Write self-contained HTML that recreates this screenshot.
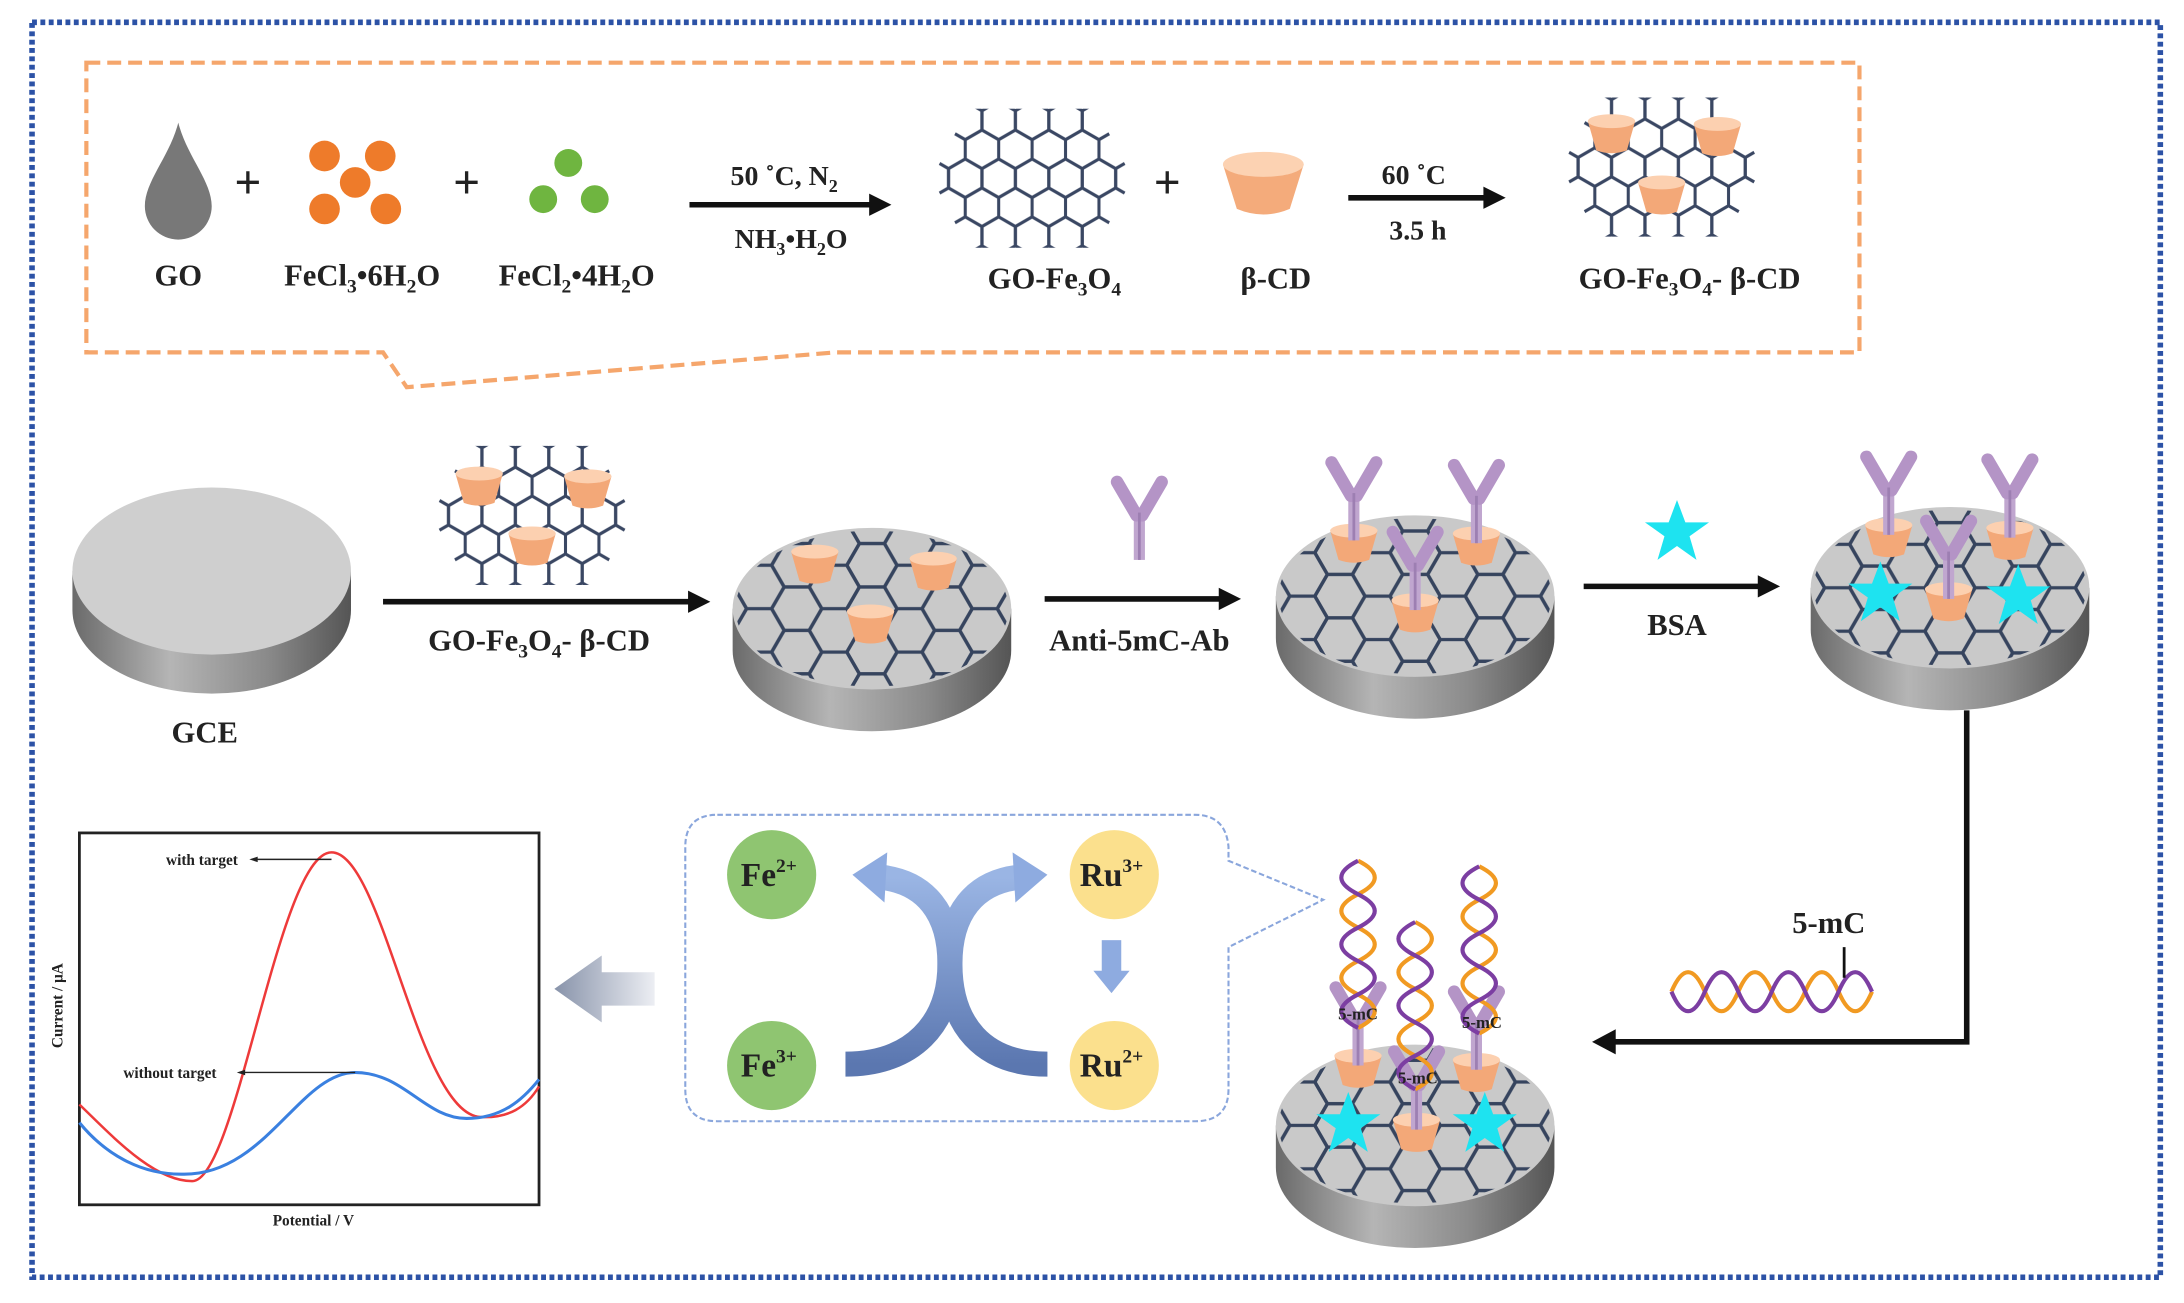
<!DOCTYPE html>
<html><head><meta charset="utf-8"><style>
html,body{margin:0;padding:0;background:#fff;}
svg{display:block;}
text{font-family:"Liberation Serif",serif;font-weight:bold;fill:#222;}
</style></head><body>
<svg width="2184" height="1303" viewBox="0 0 1568 935.5" preserveAspectRatio="none" xmlns="http://www.w3.org/2000/svg">
<defs>
 <pattern id="hexs" width="24" height="41.57" patternUnits="userSpaceOnUse">
  <g fill="none" stroke="#3a4763" stroke-width="2.2">
   <path id="hx" d="M0,-13.86 L12,-6.93 L12,6.93 L0,13.86 L-12,6.93 L-12,-6.93 Z"/>
   <use href="#hx" x="24"/><use href="#hx" x="12" y="20.78"/><use href="#hx" y="41.57"/><use href="#hx" x="24" y="41.57"/>
  </g>
 </pattern>
 <pattern id="hexd" width="54" height="31.18" patternUnits="userSpaceOnUse">
  <g fill="none" stroke="#36445e" stroke-width="2.4">
   <path id="hf" d="M-18,0 L-9,-15.59 L9,-15.59 L18,0 L9,15.59 L-9,15.59 Z"/>
   <use href="#hf" x="54"/><use href="#hf" x="27" y="15.59"/><use href="#hf" y="31.18"/><use href="#hf" x="54" y="31.18"/>
  </g>
 </pattern>
 <linearGradient id="side" x1="0" x2="1" y1="0" y2="0">
  <stop offset="0" stop-color="#6a6a6a"/><stop offset="0.35" stop-color="#b5b5b5"/><stop offset="0.7" stop-color="#8a8a8a"/><stop offset="1" stop-color="#555"/>
 </linearGradient>
 <linearGradient id="garr" x1="0" x2="1"><stop offset="0" stop-color="#8893aa"/><stop offset="1" stop-color="#eceef3"/></linearGradient>
 <linearGradient id="bandg" x1="0" y1="1" x2="0" y2="0"><stop offset="0" stop-color="#5b77b0"/><stop offset="1" stop-color="#9ab5e4"/></linearGradient>
 <g id="cup"><path d="M-17,-9 L17,-9 L11,12 Q0,16 -11,12 Z" fill="#f3a878"/><ellipse cx="0" cy="-9" rx="17" ry="5" fill="#fcd0b0"/></g>
 <g id="ab"><rect x="-4" y="-4" width="8" height="34" fill="#c0a6cf"/><path d="M-2,-2 L-16,-26 M2,-2 L16,-26" stroke="#b494c6" stroke-width="9" stroke-linecap="round"/><rect x="-1" y="-4" width="2" height="34" fill="#9d7fb2"/></g>
 <polygon id="star" points="0,-24 6,-8 23,-8 9,2 14,19 0,9 -14,19 -9,2 -23,-8 -6,-8" fill="#1ee3f0"/>
 <clipPath id="flake"><path d="M-46,-50 L46,-50 L72,0 L46,50 L-46,50 L-72,0 Z"/></clipPath>
 <clipPath id="dtop"><ellipse cx="0" cy="0" rx="98" ry="56"/></clipPath>
 <g id="disc">
  <path d="M-100,0 L-100,30 A100,58 0 0 0 100,30 L100,0 Z" fill="url(#side)"/>
  <ellipse cx="0" cy="0" rx="100" ry="58" fill="#c9c9c9"/>
  <g clip-path="url(#dtop)"><rect x="-110" y="-70" width="220" height="140" fill="url(#hexd)"/></g>
 </g>
 <g id="flk"><g clip-path="url(#flake)"><rect x="-80" y="-60" width="160" height="120" fill="url(#hexs)"/></g></g>
</defs>

<rect x="23" y="16" width="1528" height="901" fill="none" stroke="#2c52a6" stroke-width="4" stroke-dasharray="3.5 2.5"/>
<path d="M62,45 H1335 V253 H600 L292,278 L275,253 H62 Z" fill="none" stroke="#f5a66c" stroke-width="3" stroke-dasharray="10 5"/>

<path d="M128,88 C122,112 104,130 104,148 A24,24 0 0 0 152,148 C152,130 134,112 128,88 Z" fill="#787878"/>
<text x="178" y="142" font-size="34" text-anchor="middle" font-weight="normal">+</text>
<g fill="#ee7b2a"><circle cx="233" cy="112" r="11"/><circle cx="273" cy="112" r="11"/><circle cx="255" cy="131" r="11"/><circle cx="233" cy="150" r="11"/><circle cx="277" cy="150" r="11"/></g>
<text x="335" y="142" font-size="34" text-anchor="middle" font-weight="normal">+</text>
<g fill="#6fb540"><circle cx="408" cy="117" r="10"/><circle cx="390" cy="143" r="10"/><circle cx="427" cy="143" r="10"/></g>
<text x="128" y="205" font-size="22" text-anchor="middle">GO</text>
<text x="260" y="205" font-size="22" text-anchor="middle">FeCl<tspan font-size="14" dy="5">3</tspan><tspan dy="-5">•6H</tspan><tspan font-size="14" dy="5">2</tspan><tspan dy="-5">O</tspan></text>
<text x="414" y="205" font-size="22" text-anchor="middle">FeCl<tspan font-size="14" dy="5">2</tspan><tspan dy="-5">•4H</tspan><tspan font-size="14" dy="5">2</tspan><tspan dy="-5">O</tspan></text>
<line x1="495" y1="147" x2="628" y2="147" stroke="#111" stroke-width="4"/><polygon points="640,147 624,139 624,155" fill="#111"/>
<text x="563" y="133" font-size="20" text-anchor="middle">50 ˚C, N<tspan font-size="13" dy="5">2</tspan></text>
<text x="568" y="178" font-size="20" text-anchor="middle">NH<tspan font-size="13" dy="5">3</tspan><tspan dy="-5">•H</tspan><tspan font-size="13" dy="5">2</tspan><tspan dy="-5">O</tspan></text>
<use href="#flk" x="741" y="128"/>
<text x="757" y="207" font-size="22" text-anchor="middle">GO-Fe<tspan font-size="14" dy="5">3</tspan><tspan dy="-5">O</tspan><tspan font-size="14" dy="5">4</tspan></text>
<text x="838" y="142" font-size="34" text-anchor="middle" font-weight="normal">+</text>
<path d="M878,118 L936,118 L926,150 Q907,158 888,150 Z" fill="#f4ab7b"/><ellipse cx="907" cy="118" rx="29" ry="9" fill="#fcd2b2"/>
<text x="916" y="207" font-size="22" text-anchor="middle">β-CD</text>
<line x1="968" y1="142" x2="1068" y2="142" stroke="#111" stroke-width="4"/><polygon points="1081,142 1065,134 1065,150" fill="#111"/>
<text x="1015" y="132" font-size="20" text-anchor="middle">60 ˚C</text>
<text x="1018" y="172" font-size="20" text-anchor="middle">3.5 h</text>
<use href="#flk" x="1193" y="120"/>
<use href="#cup" x="1157" y="96"/><use href="#cup" x="1233" y="98"/><use href="#cup" x="1193" y="140"/>
<text x="1213" y="207" font-size="22" text-anchor="middle">GO-Fe<tspan font-size="14" dy="5">3</tspan><tspan dy="-5">O</tspan><tspan font-size="14" dy="5">4</tspan><tspan dy="-5">- β-CD</tspan></text>

<path d="M-100,0 L-100,28 A100,60 0 0 0 100,28 L100,0 Z" transform="translate(152,410)" fill="url(#side)"/>
<ellipse cx="152" cy="410" rx="100" ry="60" fill="#cfcfcf"/>
<text x="147" y="533" font-size="22" text-anchor="middle">GCE</text>
<use href="#flk" x="382" y="370"/>
<use href="#cup" x="344" y="349"/><use href="#cup" x="422" y="351"/><use href="#cup" x="382" y="392"/>
<line x1="275" y1="432" x2="497" y2="432" stroke="#111" stroke-width="4"/><polygon points="510,432 494,424 494,440" fill="#111"/>
<text x="387" y="467" font-size="22" text-anchor="middle">GO-Fe<tspan font-size="14" dy="5">3</tspan><tspan dy="-5">O</tspan><tspan font-size="14" dy="5">4</tspan><tspan dy="-5">- β-CD</tspan></text>

<use href="#disc" x="626" y="437"/>
<use href="#cup" x="585" y="405"/><use href="#cup" x="670" y="410"/><use href="#cup" x="625" y="448"/>
<use href="#ab" x="818" y="372"/>
<line x1="750" y1="430" x2="878" y2="430" stroke="#111" stroke-width="4"/><polygon points="891,430 875,422 875,438" fill="#111"/>
<text x="818" y="467" font-size="22" text-anchor="middle">Anti-5mC-Ab</text>

<use href="#disc" x="1016" y="428"/>
<use href="#cup" x="972" y="390"/><use href="#cup" x="1060" y="392"/><use href="#cup" x="1016" y="440"/>
<use href="#ab" x="972" y="358"/><use href="#ab" x="1060" y="360"/><use href="#ab" x="1016" y="408"/>
<use href="#star" x="1204" y="383"/>
<line x1="1137" y1="421" x2="1265" y2="421" stroke="#111" stroke-width="4"/><polygon points="1278,421 1262,413 1262,429" fill="#111"/>
<text x="1204" y="456" font-size="22" text-anchor="middle">BSA</text>

<use href="#disc" x="1400" y="422"/>
<use href="#cup" x="1356" y="386"/><use href="#cup" x="1443" y="388"/><use href="#cup" x="1399" y="432"/>
<use href="#ab" x="1356" y="354"/><use href="#ab" x="1443" y="356"/><use href="#ab" x="1399" y="400"/>
<use href="#star" x="1350" y="427"/><use href="#star" x="1449" y="429"/>

<path d="M1412,510 V748 H1158" fill="none" stroke="#111" stroke-width="4"/><polygon points="1143,748 1160,739 1160,757" fill="#111"/>
<g fill="none" stroke-width="3">
 <path d="M1200,712 Q1212,684 1224,712 T1248,712 T1272,712 T1296,712 T1320,712 T1344,712" stroke="#f19a22"/>
 <path d="M1200,712 Q1212,740 1224,712 T1248,712 T1272,712 T1296,712 T1320,712 T1344,712" stroke="#7c3ea2"/>
</g>
<line x1="1324" y1="680" x2="1324" y2="702" stroke="#111" stroke-width="2"/>
<text x="1313" y="670" font-size="22" text-anchor="middle">5-mC</text>

<use href="#disc" x="1016" y="808"/>
<use href="#star" x="968" y="808"/><use href="#star" x="1066" y="808"/>
<use href="#cup" x="975" y="767"/><use href="#cup" x="1060" y="770"/><use href="#cup" x="1017" y="813"/>
<use href="#ab" x="975" y="735"/><use href="#ab" x="1060" y="738"/><use href="#ab" x="1017" y="781"/>
<g fill="none" stroke-width="3">
 <path d="M975,618 Q999,630 975,642 T975,666 T975,690 T975,714 T975,738" stroke="#f19a22"/>
 <path d="M975,618 Q951,630 975,642 T975,666 T975,690 T975,714 T975,738" stroke="#7c3ea2"/>
 <path d="M1062,622 Q1086,634 1062,646 T1062,670 T1062,694 T1062,718 T1062,742" stroke="#f19a22"/>
 <path d="M1062,622 Q1038,634 1062,646 T1062,670 T1062,694 T1062,718 T1062,742" stroke="#7c3ea2"/>
 <path d="M1016,662 Q1040,674 1016,686 T1016,710 T1016,734 T1016,758 T1016,782" stroke="#f19a22"/>
 <path d="M1016,662 Q992,674 1016,686 T1016,710 T1016,734 T1016,758 T1016,782" stroke="#7c3ea2"/>
</g>
<text x="975" y="732" font-size="12" text-anchor="middle">5-mC</text>
<text x="1064" y="738" font-size="12" text-anchor="middle">5-mC</text>
<text x="1018" y="778" font-size="12" text-anchor="middle">5-mC</text>

<path d="M515,585 H858 Q880,585 882,608 V618 L950,646 L882,680 V782 Q882,805 858,805 H515 Q492,805 492,782 V608 Q492,585 515,585 Z" fill="none" stroke="#8aa6dc" stroke-width="1.5" stroke-dasharray="4 2"/>
<g font-size="24">
<circle cx="554" cy="628" r="32" fill="#8fc571"/><text x="552" y="636" text-anchor="middle">Fe<tspan font-size="14" dy="-10">2+</tspan></text>
<circle cx="800" cy="628" r="32" fill="#fbe08d"/><text x="798" y="636" text-anchor="middle">Ru<tspan font-size="14" dy="-10">3+</tspan></text>
<circle cx="554" cy="765" r="32" fill="#8fc571"/><text x="552" y="773" text-anchor="middle">Fe<tspan font-size="14" dy="-10">3+</tspan></text>
<circle cx="800" cy="765" r="32" fill="#fbe08d"/><text x="798" y="773" text-anchor="middle">Ru<tspan font-size="14" dy="-10">2+</tspan></text>
</g>
<path d="M607,764 C655,764 682,735 682,692 C682,655 700,634 730,630" fill="none" stroke="url(#bandg)" stroke-width="18"/>
<polygon points="752,628 727,612 729,648" fill="#8eabe0"/>
<path d="M752,764 C705,764 682,735 682,692 C682,655 664,634 634,630" fill="none" stroke="url(#bandg)" stroke-width="18"/>
<polygon points="612,628 637,612 635,648" fill="#8eabe0"/>
<rect x="791" y="675" width="14" height="24" fill="#8eabe0"/><polygon points="785,697 811,697 798,713" fill="#8eabe0"/>

<polygon points="398,710 432,686 432,698 470,698 470,722 432,722 432,734" fill="url(#garr)"/>

<rect x="57" y="598" width="330" height="267" fill="#fff" stroke="#222" stroke-width="2"/>
<path d="M57,793 C80,815 110,848 138,848 C170,848 200,612 238,612 C275,612 300,800 345,802 C365,803 378,795 387,780" fill="none" stroke="#ee3a3a" stroke-width="1.8"/>
<path d="M57,806 C75,828 100,843 130,843 C190,845 215,770 255,770 C290,770 305,803 335,803 C360,803 375,790 387,775" fill="none" stroke="#3a80e0" stroke-width="2.2"/>
<g font-size="11">
<text x="145" y="621" text-anchor="middle">with target</text>
<text x="122" y="774" text-anchor="middle">without target</text>
<text x="225" y="880" text-anchor="middle">Potential / V</text>
<text transform="translate(45,722) rotate(-90)" text-anchor="middle">Current / μA</text>
</g>
<line x1="182" y1="617" x2="238" y2="617" stroke="#222" stroke-width="1"/><polygon points="179,617 185,615 185,619" fill="#222"/>
<line x1="173" y1="770" x2="255" y2="770" stroke="#222" stroke-width="1"/><polygon points="170,770 176,768 176,772" fill="#222"/>
</svg>
</body></html>
